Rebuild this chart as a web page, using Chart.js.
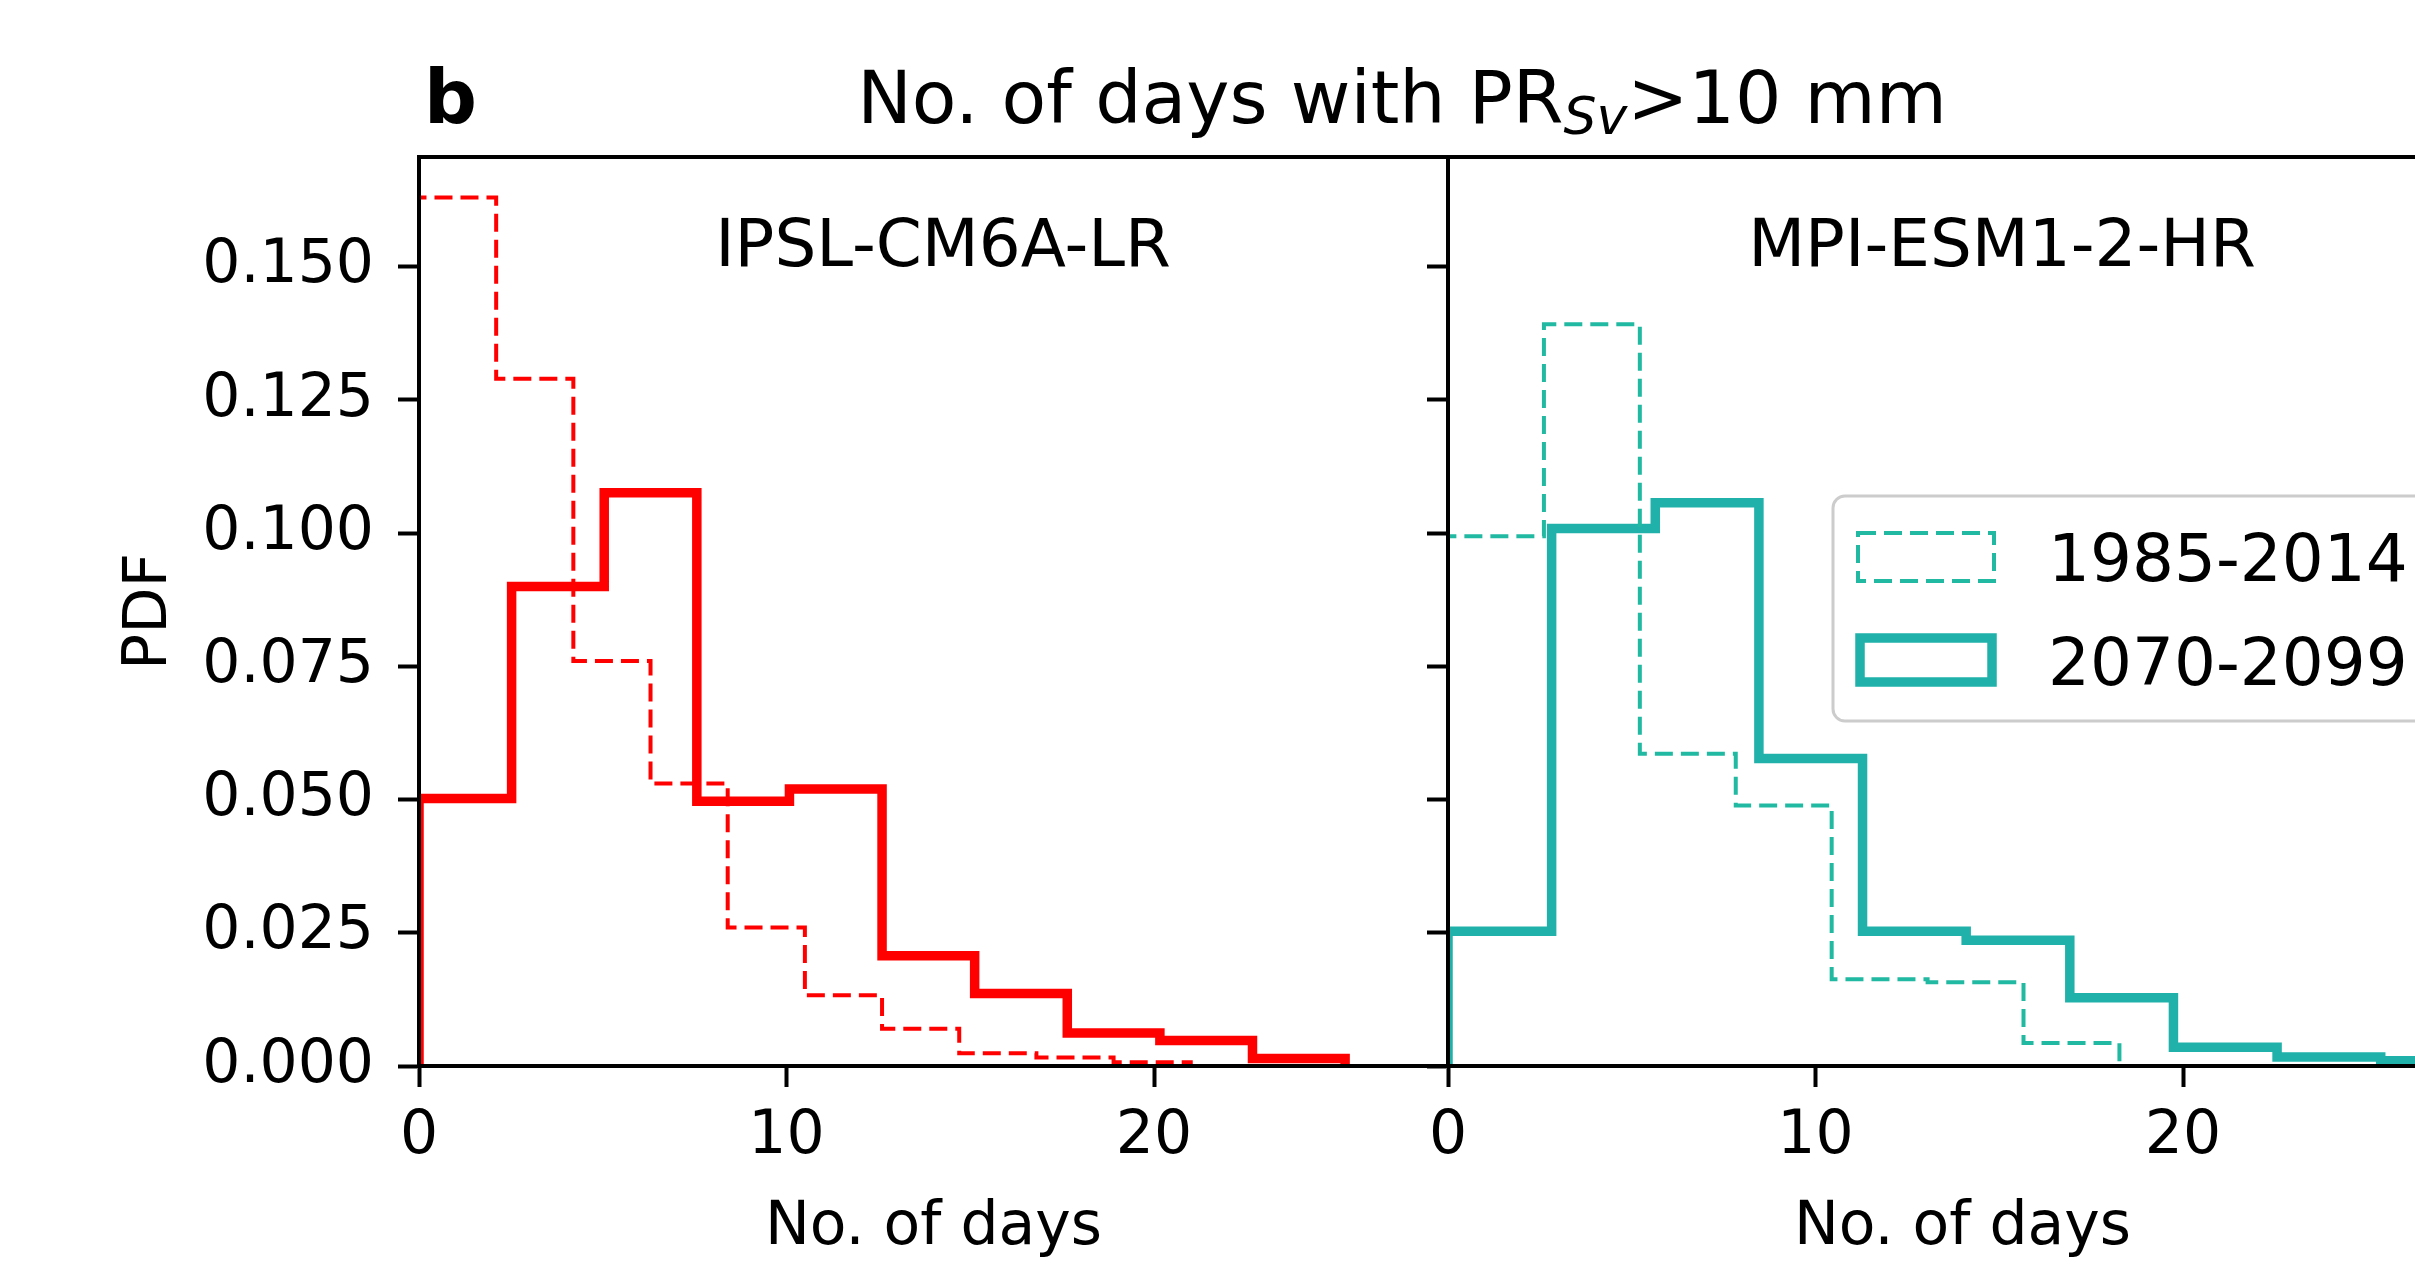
<!DOCTYPE html>
<html>
<head>
<meta charset="utf-8">
<script src="https://cdn.jsdelivr.net/npm/chart.js@4.4.1/dist/chart.umd.min.js"></script>
<style>
html, body { margin: 0; padding: 0; background: #fff; overflow: hidden; width: 2415px; height: 1264px; }
#wrap { position: relative; width: 2415px; height: 1264px; overflow: hidden; background: #fff; }
#cA { position: absolute; left: 0; top: 0; width: 2415px; height: 1264px; }
#cB { position: absolute; left: 0; top: 0; width: 2500px; height: 1264px; }
</style>
</head>
<body>
<div id="wrap">
  <canvas id="cA" width="2415" height="1264"></canvas>
  <canvas id="cB" width="2500" height="1264"></canvas>
</div>
<script>
// ---------------- data ----------------
const seriesLabels = ['1985-2014', '2070-2099'];
const panelNames = ['IPSL-CM6A-LR', 'MPI-ESM1-2-HR'];

// IPSL-CM6A-LR
const ipslEdges1985 = [0, 2.1, 4.2, 6.3, 8.4, 10.5, 12.6, 14.7, 16.8, 18.9, 21.0];
const ipslPdf1985   = [0.163, 0.129, 0.076, 0.053, 0.026, 0.0133, 0.0070, 0.0024, 0.0016, 0.0007];
const ipslEdges2070 = [0, 2.52, 5.04, 7.56, 10.08, 12.6, 15.12, 17.64, 20.16, 22.68, 25.2];
const ipslPdf2070   = [0.0502, 0.090, 0.1076, 0.0497, 0.052, 0.0207, 0.0136, 0.0062, 0.0048, 0.0014];

// MPI-ESM1-2-HR
const mpiEdges1985 = [0, 2.61, 5.22, 7.83, 10.44, 13.05, 15.66, 18.27];
const mpiPdf1985   = [0.0994, 0.1392, 0.0586, 0.0489, 0.0163, 0.0157, 0.0043];
const mpiEdges2070 = [0, 2.82, 5.64, 8.46, 11.28, 14.1, 16.92, 19.74, 22.56, 25.38, 28.2];
const mpiPdf2070   = [0.0253, 0.1009, 0.1057, 0.0577, 0.0253, 0.0236, 0.0128, 0.0035, 0.0017, 0.0010];

// axes
const yTicks = [0, 0.025, 0.05, 0.075, 0.1, 0.125, 0.15];
const xTicks = [0, 10, 20];
const yMin = 0, yMax = 0.1706;
const xMin = 0, xMax = 28;

// ---------------- styling ----------------
const FONT = "'DejaVu Sans', sans-serif";
const RED = '#ff0000';
const TEAL = '#20b2aa';
const TEAL_D = '#21b9a2';
const AX = 4;

function stepData(edges, pdf) {
  const pts = [{ x: edges[0], y: 0 }];
  pdf.forEach((h, i) => pts.push({ x: edges[i], y: h }));
  pts.push({ x: edges[pdf.length], y: pdf[pdf.length - 1] });
  pts.push({ x: edges[pdf.length], y: 0 });
  return pts;
}

function dsets(color, colorD, e1, p1, e2, p2) {
  return [
    { label: seriesLabels[0], data: stepData(e1, p1), stepped: 'before', borderColor: colorD,
      borderWidth: 4, borderDash: [18, 8], pointRadius: 0, fill: false, borderJoinStyle: 'miter', borderCapStyle: 'butt' },
    { label: seriesLabels[1], data: stepData(e2, p2), stepped: 'before', borderColor: color,
      borderWidth: 9.5, pointRadius: 0, fill: false, borderJoinStyle: 'miter', borderCapStyle: 'butt' }
  ];
}

function gridOpts() {
  return { drawOnChartArea: false, drawTicks: true, tickLength: 21, tickWidth: AX, tickColor: '#000' };
}

function scalesFor(isLeft) {
  return {
    x: {
      type: 'linear', min: xMin, max: xMax,
      afterBuildTicks: s => { s.ticks = xTicks.map(v => ({ value: v })); },
      afterFit: s => { s.height = 198; },
      ticks: { font: { family: FONT, size: 60 }, color: '#000', padding: 14, maxRotation: 0, autoSkip: false,
               callback: v => String(v) },
      grid: gridOpts(),
      border: { display: true, color: '#000', width: AX },
      title: { display: true, text: 'No. of days', color: '#000', font: { family: FONT, size: 60 },
               padding: { top: 0, bottom: 0 } }
    },
    y: {
      type: 'linear', min: yMin, max: yMax,
      afterBuildTicks: s => { s.ticks = yTicks.map(v => ({ value: v })); },
      afterFit: s => { s.width = isLeft ? 419 : 48; },
      ticks: { font: { family: FONT, size: 60 }, color: isLeft ? '#000' : 'rgba(0,0,0,0)', padding: 24,
               autoSkip: false, callback: v => v.toFixed(3) },
      grid: gridOpts(),
      border: { display: true, color: '#000', width: AX },
      title: { display: isLeft, text: 'PDF', color: '#000', font: { family: FONT, size: 60 },
               padding: { top: 114, bottom: 0 } }
    }
  };
}

function frame(chart) {
  const a = chart.chartArea, c = chart.ctx;
  c.save();
  c.strokeStyle = '#000'; c.lineWidth = AX;
  c.strokeRect(a.left, a.top, a.right - a.left, a.bottom - a.top);
  c.restore();
}

const overlayA = {
  id: 'overlayA',
  afterDraw(chart) {
    frame(chart);
    const c = chart.ctx;
    c.save();
    c.fillStyle = '#000';
    c.textBaseline = 'alphabetic';
    // panel letter
    c.font = `bold 74px ${FONT}`;
    c.textAlign = 'left';
    c.fillText('b', 424, 123);
    // main title with subscript
    const big = `73px ${FONT}`, sub = `italic 52px ${FONT}`;
    const p1 = 'No. of days with PR', p2 = 'Sv', p3 = '>10 mm';
    c.font = big; const w1 = c.measureText(p1).width, w3 = c.measureText(p3).width;
    c.font = sub; const w2 = c.measureText(p2).width;
    let x = 1402 - (w1 + w2 + w3) / 2;
    c.font = big; c.fillText(p1, x, 123); x += w1;
    c.font = sub; c.fillText(p2, x, 134); x += w2;
    c.font = big; c.fillText(p3, x, 123);
    // panel name
    c.font = `66px ${FONT}`;
    c.textAlign = 'center';
    c.fillText(panelNames[0], 943, 266);
    c.restore();
  }
};

const overlayB = {
  id: 'overlayB',
  afterDraw(chart) {
    frame(chart);
    const c = chart.ctx;
    c.save();
    c.fillStyle = '#000';
    c.textBaseline = 'alphabetic';
    c.font = `66px ${FONT}`;
    c.textAlign = 'center';
    c.fillText(panelNames[1], 2002, 266);
    // legend
    c.beginPath();
    c.roundRect(1833, 496, 640, 225, 12);
    c.fillStyle = 'rgba(255,255,255,0.8)';
    c.fill();
    c.strokeStyle = '#cccccc'; c.lineWidth = 3;
    c.stroke();
    const ds = chart.data.datasets;
    // dashed patch
    c.strokeStyle = ds[0].borderColor; c.lineWidth = ds[0].borderWidth;
    c.setLineDash(ds[0].borderDash);
    c.strokeRect(1858, 533, 136, 48);
    c.setLineDash([]);
    c.strokeStyle = ds[1].borderColor; c.lineWidth = ds[1].borderWidth;
    c.strokeRect(1860, 638, 132, 44);
    c.fillStyle = '#000';
    c.textAlign = 'left';
    c.font = `66px ${FONT}`;
    c.fillText(ds[0].label, 2048, 581);
    c.fillText(ds[1].label, 2048, 685);
    c.restore();
  }
};

const common = {
  responsive: false, animation: false, devicePixelRatio: 1,
  plugins: { legend: { display: false }, tooltip: { enabled: false }, title: { display: false } }
};

new Chart(document.getElementById('cA'), {
  type: 'line',
  data: { datasets: dsets(RED, RED, ipslEdges1985, ipslPdf1985, ipslEdges2070, ipslPdf2070) },
  options: Object.assign({}, common, {
    layout: { padding: { left: 0, top: 157, right: 2415 - 1448, bottom: 0 } },
    scales: scalesFor(true)
  }),
  plugins: [overlayA]
});

new Chart(document.getElementById('cB'), {
  type: 'line',
  data: { datasets: dsets(TEAL, TEAL_D, mpiEdges1985, mpiPdf1985, mpiEdges2070, mpiPdf2070) },
  options: Object.assign({}, common, {
    layout: { padding: { left: 1400, top: 157, right: 23, bottom: 0 } },
    scales: scalesFor(false)
  }),
  plugins: [overlayB]
});
</script>
</body>
</html>
